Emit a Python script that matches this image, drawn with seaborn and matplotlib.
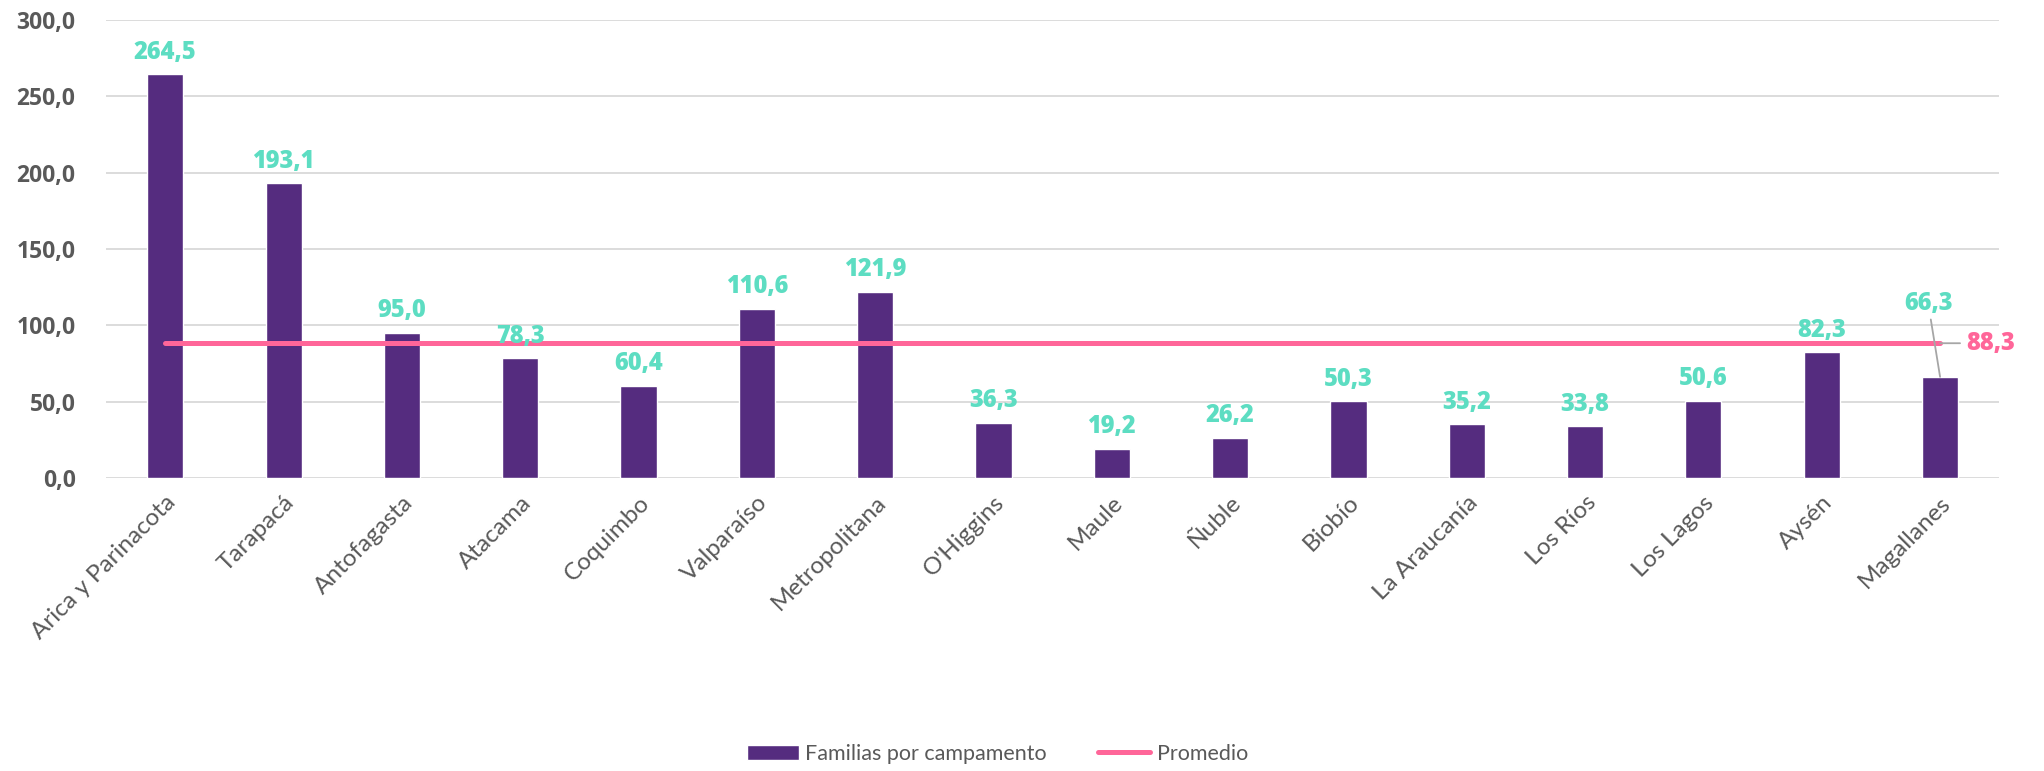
import matplotlib
matplotlib.use("Agg")
import matplotlib.pyplot as plt
import numpy as np
import pandas as pd
import seaborn as sns

# data
regions = ['Arica y Parinacota', 'Tarapacá', 'Antofagasta', 'Atacama', 'Coquimbo',
           'Valparaíso', 'Metropolitana', "O'Higgins", 'Maule', 'Ñuble', 'Biobío',
           'La Araucanía', 'Los Ríos', 'Los Lagos', 'Aysén', 'Magallanes']
familias = [264.5, 193.1, 95.0, 78.3, 60.4, 110.6, 121.9, 36.3, 19.2, 26.2, 50.3,
            35.2, 33.8, 50.6, 82.3, 66.3]
promedio = 88.3
yticks = [0, 50, 100, 150, 200, 250, 300]

purple = '#552C7F'
teal = '#5DDDC2'
pink = '#FF6699'
gray_txt = '#595959'

sns.set_style("white")
plt.rcParams['font.family'] = ['Lato', 'DejaVu Sans']

df = pd.DataFrame({'Region': regions, 'Familias': familias})

fig = plt.figure(figsize=(20.44, 7.71), dpi=100)
ax = fig.add_axes([0.0519, 0.380, 0.9262, 0.594])

sns.barplot(data=df, x='Region', y='Familias', color=purple, width=0.305,
            saturation=1, ax=ax, zorder=2)

pos = np.arange(len(regions))
line, = ax.plot(pos, [promedio] * len(regions), color=pink, lw=3.6,
                solid_capstyle='round', zorder=3)

# axes styling
ax.set_ylim(0, 300)
ax.set_xlim(-0.5, len(regions) - 0.5)
ax.set_yticks(yticks)
ax.set_yticklabels([f"{v:.1f}".replace('.', ',') for v in yticks],
                   fontsize=16.5, fontweight='bold', color=gray_txt, family='Open Sans')
ax.set_xticks(pos)
ax.set_xticklabels(regions, rotation=45, ha='right', rotation_mode='anchor',
                   fontsize=17.5, color=gray_txt)
ax.tick_params(axis='both', length=0)
ax.tick_params(axis='y', pad=22)
ax.tick_params(axis='x', pad=10)
ax.yaxis.grid(True, color='#D9D9D9', lw=1.3, zorder=0)
ax.set_axisbelow(True)
for s in ax.spines.values():
    s.set_visible(False)
ax.set_xlabel('')
ax.set_ylabel('')

# data labels
lbl_kw = dict(fontsize=17, fontweight='heavy', family='Open Sans')
for i, v in enumerate(familias):
    txt = f"{v:.1f}".replace('.', ',')
    if i == len(regions) - 1:
        ax.annotate(txt, xy=(i, v), xytext=(i - 0.1, 106), ha='center', va='bottom',
                    color=teal, **lbl_kw,
                    arrowprops=dict(arrowstyle='-', color='#A6A6A6', lw=1.3,
                                    shrinkA=0, shrinkB=0))
    else:
        ax.annotate(txt, xy=(i, v), xytext=(0, 7), textcoords='offset points',
                    ha='center', va='bottom', color=teal, **lbl_kw)

ax.annotate(f"{promedio:.1f}".replace('.', ','), xy=(len(regions) - 1, promedio),
            xytext=(len(regions) - 0.78, promedio), ha='left', va='center',
            color=pink, annotation_clip=False, **lbl_kw,
            arrowprops=dict(arrowstyle='-', color='#A6A6A6', lw=1.3,
                            shrinkA=2, shrinkB=0))

handles = [ax.patches[0], line]
labels = ['Familias por campamento', 'Promedio']
fig.legend(handles, labels, loc='lower center', bbox_to_anchor=(0.488, -0.016),
           ncol=2, frameon=False, fontsize=15.5, handlelength=2.4, handleheight=0.75,
           columnspacing=2.4, handletextpad=0.3, labelcolor=gray_txt)

fig.savefig('out.png', dpi=100)
